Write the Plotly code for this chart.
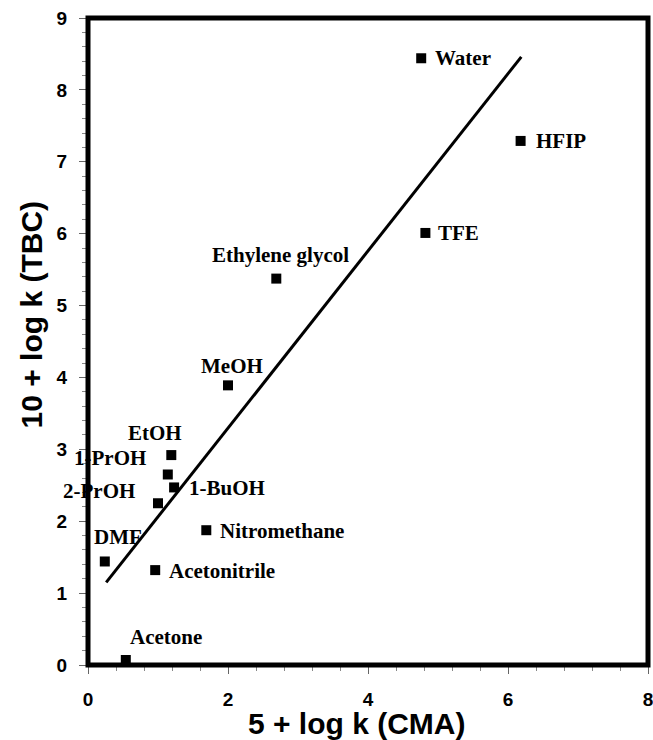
import plotly.graph_objects as go

# Data
solvents = ["Water", "HFIP", "TFE", "Ethylene glycol", "MeOH", "EtOH", "1-PrOH",
            "1-BuOH", "2-PrOH", "Nitromethane", "DMF", "Acetonitrile", "Acetone"]
log_k_cma = [4.76, 6.18, 4.82, 2.69, 2.00, 1.19, 1.14, 1.23, 1.00, 1.69, 0.24, 0.96, 0.54]
log_k_tbc = [8.44, 7.29, 6.01, 5.375, 3.89, 2.92, 2.65, 2.47, 2.25, 1.875, 1.44, 1.32, 0.07]

fit_x = [0.26, 6.19]
fit_y = [1.15, 8.46]

x_ticks = [0, 2, 4, 6, 8]
y_ticks = [0, 1, 2, 3, 4, 5, 6, 7, 8, 9]
x_title = "5 + log k (CMA)"
y_title = "10 + log k (TBC)"

# label placement (anchor, xshift, yshift) per solvent
label_pos = {
    "Water": ("left", 12, 0),
    "HFIP": ("left", 13, 0),
    "TFE": ("left", 11, 0),
    "Ethylene glycol": ("center", 4, 24),
    "MeOH": ("center", 4, 19),
    "EtOH": ("center", -16, 22),
    "1-PrOH": ("center", -58, 16),
    "1-BuOH": ("left", 13, -1),
    "2-PrOH": ("center", -59, 12),
    "Nitromethane": ("left", 12, -1),
    "DMF": ("center", 13, 24),
    "Acetonitrile": ("left", 12, -1),
    "Acetone": ("center", 40, 23),
}

fig = go.Figure()
fig.add_trace(go.Scatter(x=fit_x, y=fit_y, mode="lines",
                         line=dict(color="black", width=3), showlegend=False,
                         hoverinfo="skip"))
fig.add_trace(go.Scatter(x=log_k_cma, y=log_k_tbc, mode="markers",
                         marker=dict(symbol="square", size=10, color="black"),
                         text=solvents, showlegend=False))

for name, xv, yv in zip(solvents, log_k_cma, log_k_tbc):
    anchor, xs, ys = label_pos[name]
    fig.add_annotation(x=xv, y=yv, text="<b>" + name + "</b>", showarrow=False,
                       xanchor=anchor, yanchor="middle", xshift=xs, yshift=ys,
                       font=dict(family="Liberation Serif", size=21, color="black"))

# axis titles (offset from centre as in the reference)
title_font = dict(family="Liberation Sans", size=30, color="black")
fig.add_annotation(xref="paper", yref="paper", x=0.48, y=0, text="<b>" + x_title + "</b>",
                   showarrow=False, xanchor="center", yanchor="middle", yshift=-58,
                   borderpad=0, font=title_font)
fig.add_annotation(xref="paper", yref="paper", x=0, y=0.5, text="<b>" + y_title + "</b>",
                   showarrow=False, xanchor="center", yanchor="middle", textangle=-90,
                   xshift=-57, yshift=27, font=title_font)

# frame centred on the axis positions
fig.add_shape(type="rect", xref="paper", yref="paper", x0=0, y0=0, x1=1, y1=1,
              line=dict(color="black", width=5), layer="above")

axis_common = dict(
    showline=False, showgrid=False, zeroline=False, automargin=False,
    ticks="outside", ticklen=8, tickwidth=1, tickcolor="#666",
    ticklabeloverflow="allow",
    tickfont=dict(family="Liberation Sans", size=19, color="black"),
)

fig.update_xaxes(range=[0, 8], tickvals=x_ticks, ticktext=["<b>%d</b>" % v for v in x_ticks],
                 minor=dict(dtick=0.4, tick0=0, ticks="outside", ticklen=5, tickcolor="#888"),
                 ticklabelstandoff=9, **axis_common)
fig.update_yaxes(range=[0, 9], tickvals=y_ticks, ticktext=["<b>%d</b>" % v for v in y_ticks],
                 minor=dict(dtick=0.2, tick0=0, ticks="outside", ticklen=5, tickcolor="#888"),
                 ticklabelstandoff=8, **axis_common)

fig.update_layout(
    width=653, height=740,
    margin=dict(l=88, r=5, t=18, b=75),
    plot_bgcolor="white", paper_bgcolor="white",
)

fig.write_html("out.html", config={"displayModeBar": False},
               post_script="document.body.style.margin='0px';")
